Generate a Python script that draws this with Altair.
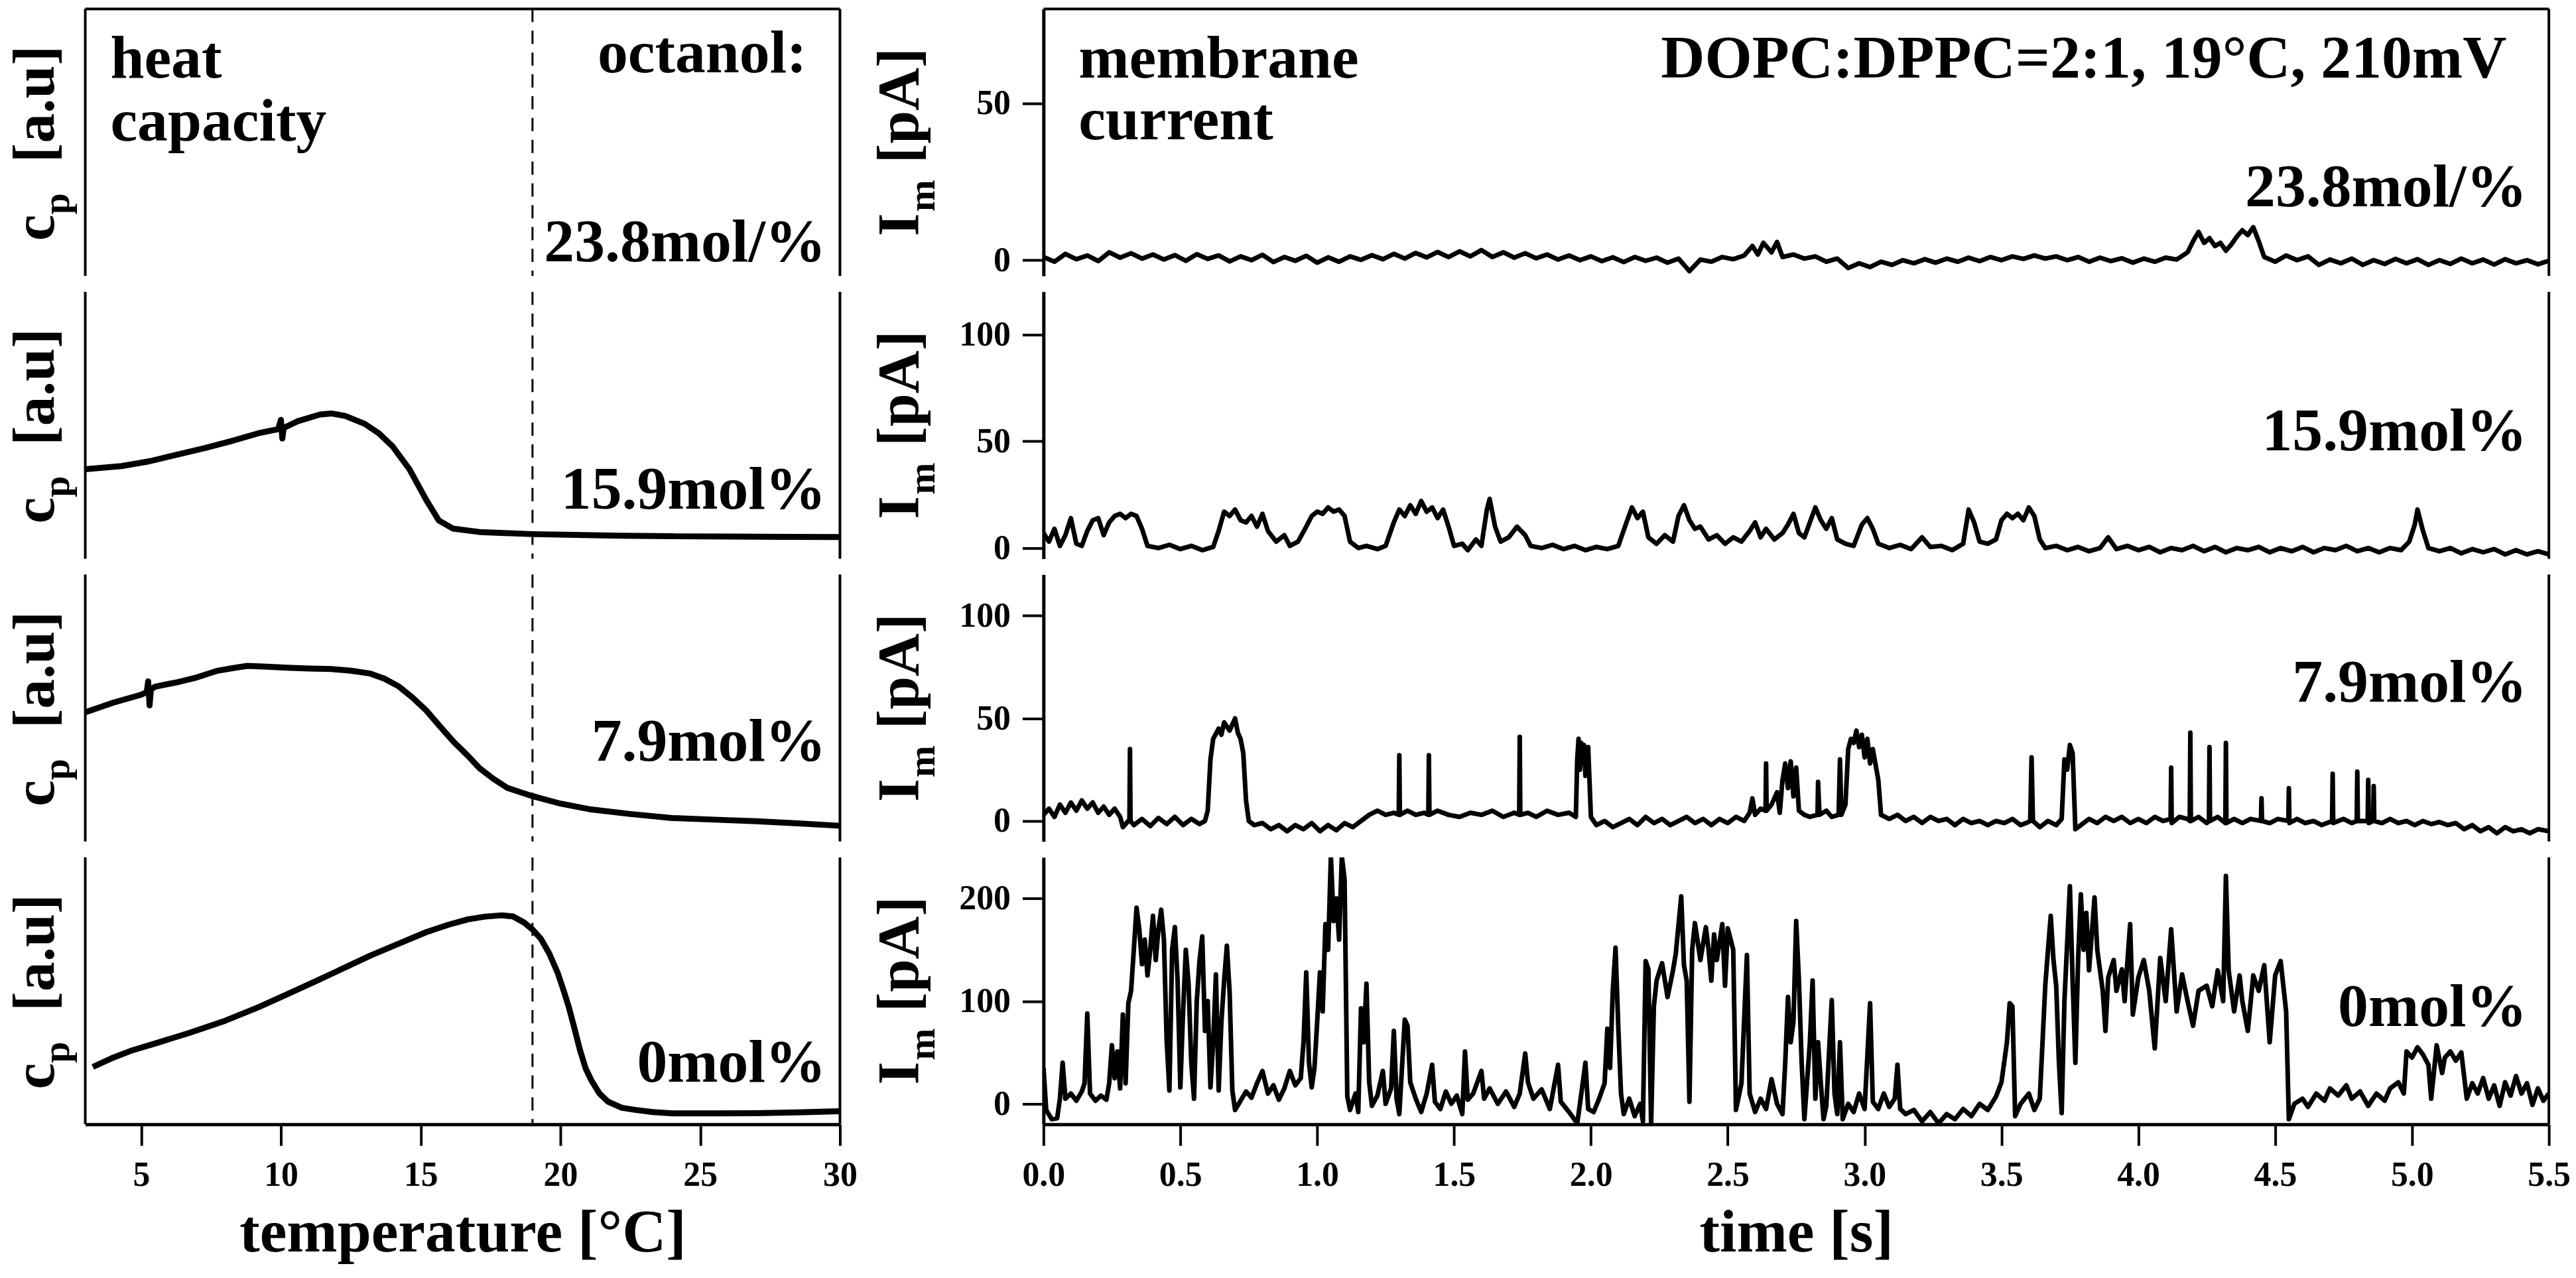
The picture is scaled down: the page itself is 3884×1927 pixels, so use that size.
import altair as alt
import pandas as pd

FONT = "Liberation Serif"

# ---------------- heat capacity (left column), cp in % of panel height ----------
T_159 = [3.0, 4.3, 5.3, 6.3, 7.3, 8.2, 9.2, 9.9, 10.0, 10.05, 10.1, 10.6, 11.4, 11.8, 12.3,
         13.0, 13.5, 14.0, 14.6, 15.2, 15.65, 16.15, 17.1, 18.0, 19.0, 20.5, 22.1, 24.0, 26.0, 28.0, 30.0]
CP_159 = [33.5, 34.7, 36.5, 39.0, 41.5, 44.0, 47.0, 48.5, 52.0, 45.0, 49.0, 51.5, 54.0, 54.4, 53.5,
          50.5, 47.0, 42.0, 33.5, 22.0, 14.3, 11.3, 10.0, 9.6, 9.2, 8.9, 8.6, 8.4, 8.3, 8.2, 8.1]

T_79 = [3.0, 4.0, 5.0, 5.2, 5.25, 5.3, 5.35, 5.5, 6.3, 7.0, 7.7, 8.3, 8.8, 9.5, 10.2, 11.0, 11.8,
        12.5, 13.2, 13.7, 14.2, 14.7, 15.2, 15.7, 16.2, 16.7, 17.1, 17.6, 18.1, 19.0, 20.0, 21.1,
        22.5, 24.0, 25.5, 27.0, 28.5, 30.0]
CP_79 = [48.4, 52.0, 55.0, 56.0, 60.0, 51.0, 57.0, 58.0, 59.7, 61.5, 63.9, 65.0, 65.8, 65.5, 65.1,
         64.8, 64.6, 64.0, 62.9, 61.0, 58.2, 54.0, 49.1, 43.0, 37.1, 32.0, 27.5, 23.5, 20.1, 17.0,
         14.2, 12.0, 10.3, 8.8, 8.2, 7.6, 6.8, 5.9]

T_0 = [3.27, 4.0, 4.7, 5.5, 6.7, 8.0, 9.2, 10.2, 11.2, 12.2, 13.2, 14.2, 15.2, 16.0, 16.7, 17.3,
       17.9, 18.3, 18.7, 19.0, 19.3, 19.6, 19.9, 20.1, 20.3, 20.5, 20.7, 20.9, 21.1, 21.4, 21.7,
       22.2, 22.7, 23.3, 24.0, 25.5, 27.0, 28.5, 30.0]
CP_0 = [21.5, 25.0, 27.8, 30.3, 34.2, 38.8, 43.9, 48.6, 53.4, 58.3, 63.2, 67.6, 72.0, 74.8, 76.8,
        77.8, 78.3, 77.9, 75.6, 73.0, 69.5, 64.0, 56.8, 50.6, 43.9, 36.0, 27.8, 21.0, 16.6, 11.5,
        8.5, 6.2, 5.4, 4.6, 4.1, 4.1, 4.2, 4.5, 4.9]

DASH_T = [19.0]

# ---------------- membrane current (right column) ----------------
t_238 = [0.00, 0.04, 0.08, 0.12, 0.16, 0.20, 0.24, 0.28, 0.32, 0.36, 0.40, 0.44, 0.48, 0.52, 0.56,
         0.60, 0.64, 0.68, 0.72, 0.76, 0.80, 0.84, 0.88, 0.92, 0.96, 1.00, 1.04, 1.08, 1.12, 1.16,
         1.20, 1.24, 1.28, 1.32, 1.36, 1.40, 1.44, 1.48, 1.52, 1.56, 1.60, 1.64, 1.68, 1.72, 1.76,
         1.80, 1.84, 1.88, 1.92, 1.96, 2.00, 2.04, 2.08, 2.12, 2.16, 2.20, 2.24, 2.28, 2.32, 2.36,
         2.40, 2.44, 2.48, 2.52, 2.56, 2.59, 2.61, 2.63, 2.66, 2.68, 2.70, 2.74, 2.78, 2.82, 2.86,
         2.90, 2.94, 2.98, 3.02, 3.06, 3.10, 3.14, 3.18, 3.22, 3.26, 3.30, 3.34, 3.38, 3.42, 3.46,
         3.50, 3.54, 3.58, 3.62, 3.66, 3.70, 3.74, 3.78, 3.82, 3.86, 3.90, 3.94, 3.98, 4.02, 4.06,
         4.10, 4.14, 4.18, 4.20, 4.22, 4.24, 4.26, 4.28, 4.30, 4.32, 4.34, 4.36, 4.38, 4.40, 4.42,
         4.44, 4.46, 4.50, 4.54, 4.58, 4.62, 4.66, 4.70, 4.74, 4.78, 4.82, 4.86, 4.90, 4.94, 4.98,
         5.02, 5.06, 5.10, 5.14, 5.18, 5.22, 5.26, 5.30, 5.34, 5.38, 5.42, 5.46, 5.50]
i_238 = [1.0, -0.5, 2.0, 0.3, 1.5, -0.3, 2.5, 0.8, 2.2, 0.5, 1.8, 0.2, 1.6, -0.2, 1.9,
         0.4, 1.5, -0.4, 1.2, 0.0, 1.7, -0.6, 1.0, -0.2, 1.4, -0.8, 0.9, -0.5, 1.2, 0.1,
         1.6, 0.3, 2.0, 0.5, 2.3, 0.9, 2.6, 1.0, 2.8, 1.2, 3.2, 1.0, 2.5, 0.8, 2.2,
         0.6, 1.8, 0.2, 1.5, 0.0, 1.2, -0.3, 0.9, -0.6, 1.0, -0.2, 0.8, -0.8, 0.5, -3.5,
         0.2, -0.5, 1.0, 0.3, 1.5, 4.5, 1.8, 5.5, 2.5, 5.8, 1.0, 1.8, 0.5, 1.2, -0.5,
         0.5, -2.5, -1.0, -2.2, -0.5, -1.5, 0.0, -1.0, 0.3, -0.8, 0.5, -0.5, 0.8, -0.3, 1.0,
         0.0, 1.2, 0.4, 1.5, 0.5, 1.2, 0.0, 1.0, -0.5, 0.8, -0.3, 0.6, -0.8, 0.5, -0.5,
         0.8, 0.2, 2.5, 6.0, 9.0, 5.5, 7.0, 4.5, 5.5, 3.0, 5.0, 7.5, 9.5, 8.0, 10.5,
         6.0, 1.0, -0.5, 1.5, 0.0, 1.2, -1.5, 0.2, -1.0, 0.5, -1.5, 0.0, -1.2, 0.4, -1.0,
         0.3, -1.5, 0.0, -1.2, 0.5, -1.0, 0.2, -1.4, 0.3, -1.0, 0.0, -1.3, -0.2]

t_159 = [0.00, 0.02, 0.04, 0.06, 0.08, 0.10, 0.12, 0.14, 0.16, 0.18, 0.20, 0.22, 0.24, 0.26, 0.28,
         0.30, 0.32, 0.34, 0.36, 0.38, 0.42, 0.46, 0.50, 0.54, 0.58, 0.62, 0.64, 0.66, 0.68, 0.70,
         0.72, 0.74, 0.76, 0.78, 0.80, 0.82, 0.85, 0.88, 0.90, 0.93, 0.96, 0.98, 1.00, 1.02, 1.04,
         1.06, 1.08, 1.10, 1.12, 1.15, 1.18, 1.22, 1.25, 1.28, 1.30, 1.32, 1.34, 1.36, 1.38, 1.40,
         1.42, 1.44, 1.46, 1.48, 1.50, 1.53, 1.55, 1.58, 1.60, 1.62, 1.63, 1.65, 1.67, 1.70, 1.73,
         1.76, 1.78, 1.82, 1.86, 1.90, 1.94, 1.98, 2.02, 2.06, 2.10, 2.13, 2.15, 2.17, 2.19, 2.21,
         2.24, 2.27, 2.30, 2.32, 2.34, 2.36, 2.38, 2.40, 2.43, 2.46, 2.49, 2.52, 2.55, 2.58, 2.60,
         2.62, 2.64, 2.67, 2.70, 2.72, 2.74, 2.76, 2.78, 2.80, 2.82, 2.84, 2.86, 2.88, 2.90, 2.93,
         2.96, 2.99, 3.01, 3.03, 3.05, 3.09, 3.13, 3.17, 3.21, 3.24, 3.28, 3.32, 3.36, 3.38, 3.40,
         3.42, 3.45, 3.48, 3.50, 3.52, 3.54, 3.56, 3.58, 3.60, 3.62, 3.64, 3.66, 3.70, 3.74, 3.78,
         3.82, 3.86, 3.89, 3.92, 3.96, 4.00, 4.04, 4.08, 4.12, 4.16, 4.20, 4.24, 4.28, 4.32, 4.36,
         4.40, 4.44, 4.48, 4.52, 4.56, 4.60, 4.64, 4.68, 4.72, 4.76, 4.80, 4.84, 4.88, 4.92, 4.96,
         4.99, 5.01, 5.02, 5.04, 5.06, 5.10, 5.14, 5.18, 5.22, 5.26, 5.30, 5.34, 5.38, 5.42, 5.46,
         5.50]
i_159 = [7, 3, 9, 1, 6, 14, 2, 1, 8, 13, 14, 6, 12, 15, 16,
         14, 16, 15, 9, 1, 0, 1.5, -0.5, 1, -1, 0.5, 8, 17, 15, 18,
         13, 12, 15, 10, 16, 8, 3, 6, 1, 3, 10, 15, 17, 16, 19,
         17, 18, 15, 3, 0, 1, -0.5, 1, 12, 18, 15, 20, 16, 22, 17,
         19, 14, 18, 10, 1, 2, -1, 4, 1, 18, 23, 10, 3, 5, 10,
         6, 1, 0, 1.5, -0.5, 1, -1, 0.5, -0.5, 1, 12, 19, 14, 17, 5,
         2, 6, 3, 15, 20, 13, 9, 10, 4, 6, 2, 5, 3, 8, 12,
         5, 9, 4, 7, 11, 16, 7, 5, 12, 19, 13, 9, 14, 4, 2,
         1, 11, 14, 9, 2, 0, 1.5, -0.5, 5, 0.5, 1, -1, 2, 18, 12,
         3, 2, 4, 13, 16, 14, 16, 13, 19, 15, 4, 0, 1, -1, 0.5,
         -1.5, 0, 5, -0.5, 1, -1, 0.5, -2, 0, -1, 1, -1.5, 0.5, -2, 0,
         -1, 0.5, -2, 0, -1.5, 0.5, -2, 0, -1, 1, -1.5, 0, -2, 0, -1,
         3, 11, 18, 8, 0, -1.5, 0, -2.5, -0.5, -2, -0.5, -3, -1, -3, -1.5,
         -3]

t_79 = [0.00, 0.02, 0.04, 0.06, 0.08, 0.10, 0.12, 0.14, 0.16, 0.18, 0.20, 0.22, 0.24, 0.26, 0.28,
        0.29, 0.31, 0.314, 0.316, 0.318, 0.33, 0.36, 0.39, 0.42, 0.45, 0.48, 0.51, 0.54, 0.57, 0.59,
        0.60, 0.61, 0.62, 0.64, 0.65, 0.66, 0.68, 0.70, 0.71, 0.72, 0.73, 0.74, 0.75, 0.77, 0.80,
        0.83, 0.86, 0.89, 0.92, 0.95, 0.98, 1.01, 1.04, 1.07, 1.10, 1.13, 1.16, 1.19, 1.22, 1.25,
        1.28, 1.298, 1.300, 1.302, 1.33, 1.36, 1.39, 1.406, 1.408, 1.410, 1.44, 1.48, 1.52, 1.56, 1.60,
        1.64, 1.68, 1.72, 1.738, 1.740, 1.742, 1.77, 1.80, 1.84, 1.88, 1.92, 1.945, 1.95, 1.955, 1.96,
        1.965, 1.97, 1.975, 1.98, 1.99, 2.00, 2.02, 2.05, 2.08, 2.11, 2.14, 2.17, 2.20, 2.23, 2.26,
        2.29, 2.32, 2.35, 2.38, 2.41, 2.44, 2.47, 2.50, 2.53, 2.56, 2.58, 2.59, 2.60, 2.62, 2.638,
        2.640, 2.642, 2.66, 2.68, 2.69, 2.70, 2.71, 2.72, 2.73, 2.74, 2.75, 2.76, 2.78, 2.80, 2.828,
        2.830, 2.835, 2.86, 2.88, 2.905, 2.91, 2.915, 2.93, 2.94, 2.95, 2.96, 2.97, 2.98, 2.99, 3.00,
        3.01, 3.02, 3.03, 3.05, 3.06, 3.09, 3.12, 3.15, 3.18, 3.21, 3.24, 3.27, 3.30, 3.33, 3.36,
        3.39, 3.42, 3.45, 3.48, 3.51, 3.54, 3.57, 3.59, 3.605, 3.61, 3.615, 3.64, 3.67, 3.70, 3.72,
        3.73, 3.74, 3.75, 3.76, 3.77, 3.79, 3.82, 3.85, 3.88, 3.91, 3.94, 3.97, 4.00, 4.03, 4.06,
        4.09, 4.118, 4.120, 4.122, 4.15, 4.18, 4.188, 4.190, 4.192, 4.22, 4.25, 4.258, 4.260, 4.262, 4.29,
        4.318, 4.320, 4.322, 4.35, 4.38, 4.41, 4.448, 4.450, 4.452, 4.48, 4.51, 4.548, 4.550, 4.552, 4.58,
        4.61, 4.64, 4.67, 4.708, 4.710, 4.712, 4.75, 4.78, 4.798, 4.800, 4.802, 4.838, 4.840, 4.842, 4.858,
        4.860, 4.862, 4.89, 4.92, 4.95, 4.98, 5.01, 5.04, 5.07, 5.10, 5.13, 5.16, 5.19, 5.22, 5.25,
        5.28, 5.31, 5.34, 5.37, 5.40, 5.43, 5.46, 5.50]
i_79 = [3, 6, 2, 8, 4, 9, 5, 10, 6, 9, 4, 7, 3, 6, 2,
        -3, 0, 0, 35, 0, -2, 1, -2.5, 1.5, -1.5, 2, -2, 1, -1.5, 0,
        5, 30, 40, 45, 42, 48, 44, 50, 43, 40, 33, 10, 0, -2, -1,
        -4, -2, -5, -2, -4, -1, -5, -2, -4.5, -1, -3, 0, 3, 5, 3,
        4, 3, 32, 3, 5, 3, 4, 3, 32, 3, 5, 3, 2, 4, 3,
        5, 2, 4, 3, 41, 3, 4, 2, 5, 3, 4, 2, 30, 40, 25,
        38, 36, 37, 22, 36, 2, -2, 0, -3, -1, 1, -2, 2, -1, 1,
        -2, 0, 2, -1, 1, -2, 1, -1, 2, 0, 4, 11, 3, 6, 5,
        28, 5, 8, 14, 4, 20, 28, 16, 29, 12, 26, 5, 3, 2, 3,
        19, 3, 5, 2, 3, 30, 3, 8, 35, 40, 38, 44, 36, 42, 31,
        40, 28, 35, 20, 3, 1, 3, 0, 2, -1, 2, 0, 1, -2, 1,
        -1, 0, -2, 0, -1, 1, -2, -1, 0, 31, 0, -3, 0, -2, 1,
        30, 25, 37, 33, -4, -2, 1, -1, 2, 0, 2, -1, 1, -1, 2,
        0, 1, 26, -1, 2, 1, 0, 43, 0, 2, -1, 0, 36, 0, 2,
        -1, 38, -1, 1, -1, 1, 0, 11, 0, -1, 1, 0, 16, -1, 1,
        -1, 0, -2, 0, 23, -1, 1, -1, 0, 24, 0, 0, 20, -1, 0,
        17, 0, -1, 1, -1, 0, -2, 0, -1.5, -0.5, -2, -1, -4, -2, -5,
        -3, -6, -3, -5, -4, -6, -4, -5]

t_0 = [0.00, 0.01, 0.03, 0.05, 0.06, 0.07, 0.08, 0.10, 0.12, 0.14, 0.15, 0.16, 0.17, 0.19, 0.21,
       0.23, 0.24, 0.25, 0.26, 0.27, 0.28, 0.29, 0.30, 0.31, 0.32, 0.33, 0.34, 0.35, 0.36, 0.37,
       0.38, 0.39, 0.40, 0.41, 0.42, 0.43, 0.44, 0.45, 0.46, 0.47, 0.48, 0.49, 0.50, 0.51, 0.52,
       0.53, 0.54, 0.55, 0.56, 0.57, 0.58, 0.59, 0.60, 0.61, 0.62, 0.63, 0.64, 0.65, 0.66, 0.67,
       0.68, 0.69, 0.70, 0.72, 0.74, 0.76, 0.78, 0.80, 0.82, 0.84, 0.86, 0.88, 0.90, 0.92, 0.94,
       0.95, 0.96, 0.97, 0.98, 0.99, 1.00, 1.01, 1.02, 1.03, 1.04, 1.05, 1.06, 1.07, 1.08, 1.09,
       1.10, 1.11, 1.12, 1.14, 1.15, 1.16, 1.17, 1.18, 1.19, 1.20, 1.22, 1.24, 1.25, 1.27, 1.28,
       1.29, 1.30, 1.32, 1.33, 1.34, 1.36, 1.38, 1.40, 1.42, 1.43, 1.45, 1.47, 1.49, 1.51, 1.53,
       1.54, 1.55, 1.57, 1.60, 1.61, 1.63, 1.66, 1.69, 1.72, 1.74, 1.76, 1.77, 1.79, 1.82, 1.85,
       1.88, 1.89, 1.92, 1.95, 1.96, 1.98, 1.99, 2.01, 2.03, 2.05, 2.06, 2.07, 2.08, 2.09, 2.10,
       2.11, 2.12, 2.14, 2.16, 2.18, 2.19, 2.20, 2.21, 2.22, 2.23, 2.24, 2.26, 2.28, 2.30, 2.31,
       2.33, 2.34, 2.35, 2.36, 2.37, 2.38, 2.40, 2.42, 2.43, 2.44, 2.45, 2.46, 2.48, 2.49, 2.50,
       2.52, 2.53, 2.55, 2.57, 2.58, 2.60, 2.62, 2.64, 2.66, 2.68, 2.70, 2.71, 2.72, 2.73, 2.74,
       2.75, 2.76, 2.77, 2.78, 2.80, 2.81, 2.82, 2.83, 2.84, 2.85, 2.86, 2.88, 2.89, 2.90, 2.91,
       2.92, 2.94, 2.96, 2.98, 3.00, 3.02, 3.03, 3.05, 3.07, 3.09, 3.11, 3.12, 3.13, 3.15, 3.18,
       3.21, 3.24, 3.27, 3.30, 3.33, 3.36, 3.39, 3.42, 3.45, 3.48, 3.50, 3.52, 3.53, 3.54, 3.55,
       3.57, 3.60, 3.62, 3.64, 3.65, 3.66, 3.67, 3.68, 3.69, 3.70, 3.71, 3.72, 3.73, 3.75, 3.76,
       3.77, 3.78, 3.79, 3.80, 3.81, 3.82, 3.84, 3.85, 3.87, 3.88, 3.89, 3.91, 3.92, 3.94, 3.95,
       3.97, 3.98, 4.00, 4.02, 4.04, 4.06, 4.08, 4.10, 4.12, 4.14, 4.16, 4.18, 4.20, 4.22, 4.25,
       4.27, 4.29, 4.31, 4.32, 4.33, 4.35, 4.37, 4.38, 4.40, 4.42, 4.44, 4.46, 4.48, 4.50, 4.52,
       4.54, 4.55, 4.57, 4.60, 4.62, 4.65, 4.68, 4.70, 4.73, 4.76, 4.78, 4.81, 4.84, 4.87, 4.90,
       4.92, 4.95, 4.97, 4.98, 5.00, 5.02, 5.04, 5.06, 5.07, 5.09, 5.11, 5.12, 5.14, 5.16, 5.18,
       5.20, 5.22, 5.24, 5.26, 5.28, 5.30, 5.32, 5.34, 5.36, 5.38, 5.40, 5.42, 5.44, 5.46, 5.48,
       5.50]
i_0 = [35, -6, -15, -14, 5, 40, 5, 10, 3, 12, 20, 88, 10, 3, 8,
       4, 20, 57, 25, 51, 15, 87, 20, 98, 110, 150, 191, 170, 136, 160,
       125, 150, 183, 140, 170, 189, 160, 62, 13, 150, 172, 120, 16, 90, 150,
       117, 40, 5, 100, 139, 163, 71, 100, 16, 60, 126, 13, 80, 120, 154,
       109, 13, -6, 3, 12, 6, 20, 32, 10, 18, 4, 15, 32, 18, 25,
       60, 128, 40, 16, 35, 80, 128, 90, 175, 150, 241, 178, 200, 160, 241,
       219, 7, -6, 10, -8, 93, 60, 117, 21, -2, 8, 32, 0, 15, 71,
       5, -10, 82, 76, 21, 5, -8, 10, 38, 2, -5, 12, 0, 8, -10,
       51, 4, 10, 32, 5, 15, 0, 12, -3, 10, 49, 21, 5, 14, -5,
       38, 2, -8, -19, 0, 40, -5, -8, 5, 20, 73, 35, 110, 152, 75,
       10, -10, 5, -12, 0, -17, 139, 131, -20, 95, 120, 137, 104, 130, 146,
       202, 135, 120, 2, 150, 176, 140, 172, 150, 120, 165, 140, 175, 115, 171,
       150, -6, 20, 145, 10, -8, 5, -5, 24, 0, -10, 40, 104, 60, 80,
       178, 120, 40, -15, 60, 120, 5, 60, 20, -15, -2, 101, 10, -10, 60,
       -15, 0, -8, 10, -5, 98, 2, -5, 10, -3, 5, 38, -5, -10, -6,
       -17, -8, -19, -10, -15, -5, -12, 0, -6, 7, 21, 60, 98, 95, -12,
       0, 10, -6, 5, 60, 115, 150, 183, 140, 115, 40, -9, 100, 212, 120,
       40, 140, 204, 150, 186, 130, 201, 150, 110, 71, 123, 140, 110, 131, 100,
       175, 87, 123, 140, 110, 54, 142, 100, 170, 90, 126, 100, 76, 110, 115,
       95, 130, 100, 222, 130, 90, 125, 100, 71, 125, 110, 135, 60, 125, 139,
       90, -15, 0, 5, -3, 10, 3, 15, 8, 18, 5, 12, -2, 10, 3,
       15, 21, 10, 51, 45, 55, 48, 38, 5, 57, 30, 45, 51, 42, 50,
       5, 20, 10, 25, 5, 18, -2, 21, 8, 27, 10, 20, -1, 15, 3,
       10]

LW, RW, H = 1142, 2278, 404
ONE = pd.DataFrame({"k": [0]})
TXT = dict(font=FONT, fontWeight="bold", color="black")


def txt(s, x, y, size=92, align="left", angle=0):
    kw = dict(TXT)
    if angle:
        kw["angle"] = angle
    return alt.Chart(ONE).mark_text(text=s, fontSize=size, align=align,
                                    baseline="alphabetic", **kw).encode(
        x=alt.value(x), y=alt.value(y))


def border(x=None, y=None, w=LW):
    r = alt.Chart(ONE).mark_rule(color="black", strokeWidth=4)
    if x is not None:
        return r.encode(x=alt.value(x), y=alt.value(0), y2=alt.value(H))
    return r.encode(y=alt.value(y), x=alt.value(0), x2=alt.value(w))


def left_title():
    c = H / 2
    return [txt("c", -48, c + 149, 90, angle=270),
            txt("p", -25, c + 109, 58, angle=270),
            txt("[a.u]", -48, c + 31, 90, angle=270)]


def right_title():
    c = H / 2
    return [txt("I", -190, c + 142, 90, angle=270),
            txt("m", -165, c + 105, 58, angle=270),
            txt("[pA]", -190, c + 32, 90, angle=270)]


def left_panel(T, cp, label, label_y, top=False, bottom=False):
    xaxis = None
    if bottom:
        xaxis = alt.Axis(title="temperature [°C]", values=[5, 10, 15, 20, 25, 30],
                         labelFlush=False, labelOverlap=False, labelPadding=20,
                         titlePadding=16)
    xs = alt.Scale(domain=[3, 30], nice=False, zero=False)
    dash = alt.Chart(pd.DataFrame({"T": DASH_T})).mark_rule(
        color="black", strokeWidth=3, strokeDash=[20, 13]).encode(
        x=alt.X("T:Q", scale=xs, axis=xaxis))
    layers = [dash]
    if T:
        df = pd.DataFrame({"T": T, "cp": cp})
        layers.append(alt.Chart(df).mark_line(color="black", strokeWidth=9, strokeJoin="round",
                                              clip=True).encode(
            x=alt.X("T:Q", scale=xs, axis=xaxis),
            y=alt.Y("cp:Q", scale=alt.Scale(domain=[0, 100], nice=False, zero=False), axis=None),
            order="T:Q"))
    layers += [border(x=0), border(x=LW)]
    if top:
        layers.append(border(y=0, w=LW))
        layers += [txt("heat", 38, 104), txt("capacity", 38, 199),
                   txt("octanol:", 1092, 96, align="right")]
    layers += left_title()
    layers.append(txt(label, 1121, label_y, align="right"))
    return alt.layer(*layers).properties(width=LW, height=H)


def right_panel(t, i, dom, vals, label, label_y, top=False, bottom=False):
    xaxis = None
    if bottom:
        xaxis = alt.Axis(title="time [s]", values=[0, 0.5, 1, 1.5, 2, 2.5, 3, 3.5, 4, 4.5, 5, 5.5],
                         format=".1f", labelFlush=False, labelOverlap=False, labelPadding=20,
                         titlePadding=16)
    df = pd.DataFrame({"t": t, "I": i})
    line = alt.Chart(df).mark_line(color="black", strokeWidth=7, strokeJoin="round",
                                   clip=True).encode(
        x=alt.X("t:Q", scale=alt.Scale(domain=[0, 5.5], nice=False, zero=False), axis=xaxis),
        y=alt.Y("I:Q", scale=alt.Scale(domain=dom, nice=False, zero=False),
                axis=alt.Axis(values=vals, title=None, labelPadding=18, labelFlush=False,
                              labelOverlap=False)),
        order="t:Q")
    layers = [line, border(x=RW)]
    if top:
        layers.append(border(y=0, w=RW))
        layers += [txt("membrane", 53, 104), txt("current", 53, 197),
                   txt("DOPC:DPPC=2:1, 19°C, 210mV", 2214, 104, align="right")]
    layers += right_title()
    layers.append(txt(label, 2245, label_y, align="right"))
    return alt.layer(*layers).properties(width=RW, height=H)


L1 = left_panel([], [], "23.8mol/%", 382, top=True)
L2 = left_panel(T_159, CP_159, "15.9mol%", 328)
L3 = left_panel(T_79, CP_79, "7.9mol%", 282)
L4 = left_panel(T_0, CP_0, "0mol%", 339, bottom=True)

R1 = right_panel(t_238, i_238, [-5, 80], [0, 50], "23.8mol/%", 299, top=True)
R2 = right_panel(t_159, i_159, [-5, 120], [0, 50, 100], "15.9mol%", 240)
R3 = right_panel(t_79, i_79, [-10, 120], [0, 50, 100], "7.9mol%", 192)
R4 = right_panel(t_0, i_0, [-20, 240], [0, 100, 200], "0mol%", 255, bottom=True)

chart = alt.concat(L1, R1, L2, R2, L3, R3, L4, R4, columns=2,
                   spacing={"row": 24, "column": 308},
                   bounds="flush").properties(padding=0)

chart = chart.configure_view(stroke=None).configure_axis(
    domainColor="black", domainWidth=5, tickColor="black", tickWidth=4, tickSize=32,
    labelColor="black", titleColor="black", labelFont=FONT, titleFont=FONT,
    labelFontWeight="bold", titleFontWeight="bold", labelFontSize=52, titleFontSize=92,
    grid=False)

chart.save("out.html", embed_options={"renderer": "svg", "actions": False})
